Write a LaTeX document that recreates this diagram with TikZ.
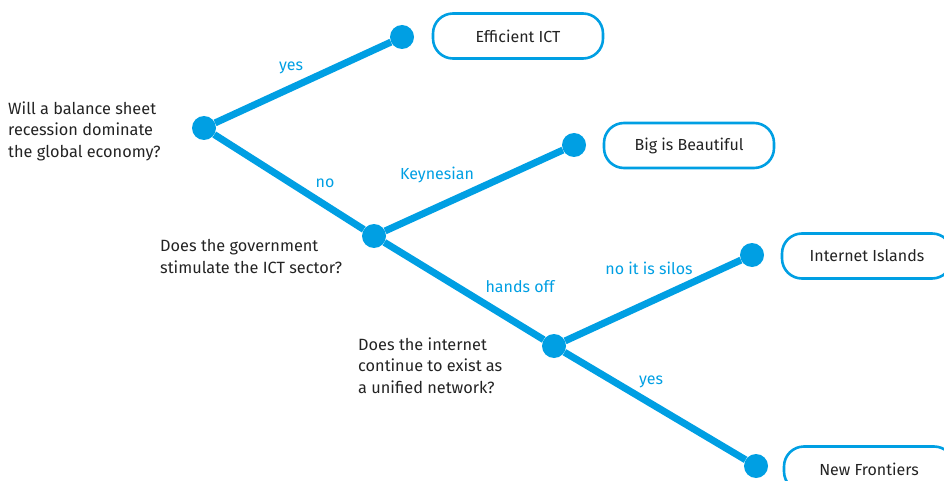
\documentclass[tikz,border=0pt]{standalone}
\usepackage{fontspec}
\setmainfont{Fira Sans}
\usepackage{xcolor}
\usepackage{tikz}

\definecolor{treeblue}{RGB}{0,159,227}
\definecolor{textgray}{RGB}{35,35,35}

\begin{document}
\begin{tikzpicture}[x=1pt,y=-1pt,
dot/.style={circle,fill=treeblue,inner sep=0pt,minimum size=24pt},
branch/.style={draw=treeblue,line width=7pt},
outcome/.style={draw=treeblue,line width=2.6pt,rounded corners=20pt,minimum width=170pt,minimum height=45pt,text=textgray,font=\fontsize{16}{18}\selectfont},
question/.style={anchor=north west,align=left,inner sep=0pt,text=textgray,font=\fontsize{16.3}{21.5}\selectfont},
answer/.style={text=treeblue,inner sep=0pt,font=\fontsize{16}{18}\selectfont}
]
\useasboundingbox (0,0) rectangle (944,481);
% decision points
\node[dot] (root) at (204,128) {};
\node[dot] (gov) at (374,236) {};
\node[dot] (net) at (554,346) {};
% end points
\node[dot] (ictdot) at (402,37) {};
\node[dot] (bigdot) at (574,145) {};
\node[dot] (islandsdot) at (752,255) {};
\node[dot] (frontiersdot) at (756,466) {};
% branches
\draw[branch] (root) -- (ictdot);
\draw[branch] (root) -- (gov);
\draw[branch] (gov) -- (bigdot);
\draw[branch] (gov) -- (net);
\draw[branch] (net) -- (islandsdot);
\draw[branch] (net) -- (frontiersdot);
% scenarios
\node[outcome] (ict) at (518,36) {Efficient ICT};
\node[outcome] (big) at (689,145.5) {Big is Beautiful};
\node[outcome] (islands) at (867,256) {Internet Islands};
\node[outcome] (frontiers) at (869,469) {New Frontiers};
% questions
\node[question] (q1) at (8,101.5) {Will a balance sheet\\recession dominate\\the global economy?};
\node[question] (q2) at (160,239.5) {Does the government\\stimulate the ICT sector?};
\node[question] (q3) at (358,337.5) {Does the internet\\continue to exist as\\a unified network?};
% answers
\node[answer] (a1) at (291,68) {yes};
\node[answer] (a2) at (325,183) {no};
\node[answer] (a3) at (437,175) {Keynesian};
\node[answer] (a4) at (520,287) {hands off};
\node[answer] (a5) at (649,268) {no it is silos};
\node[answer] (a6) at (651,382) {yes};
\end{tikzpicture}
\end{document}
